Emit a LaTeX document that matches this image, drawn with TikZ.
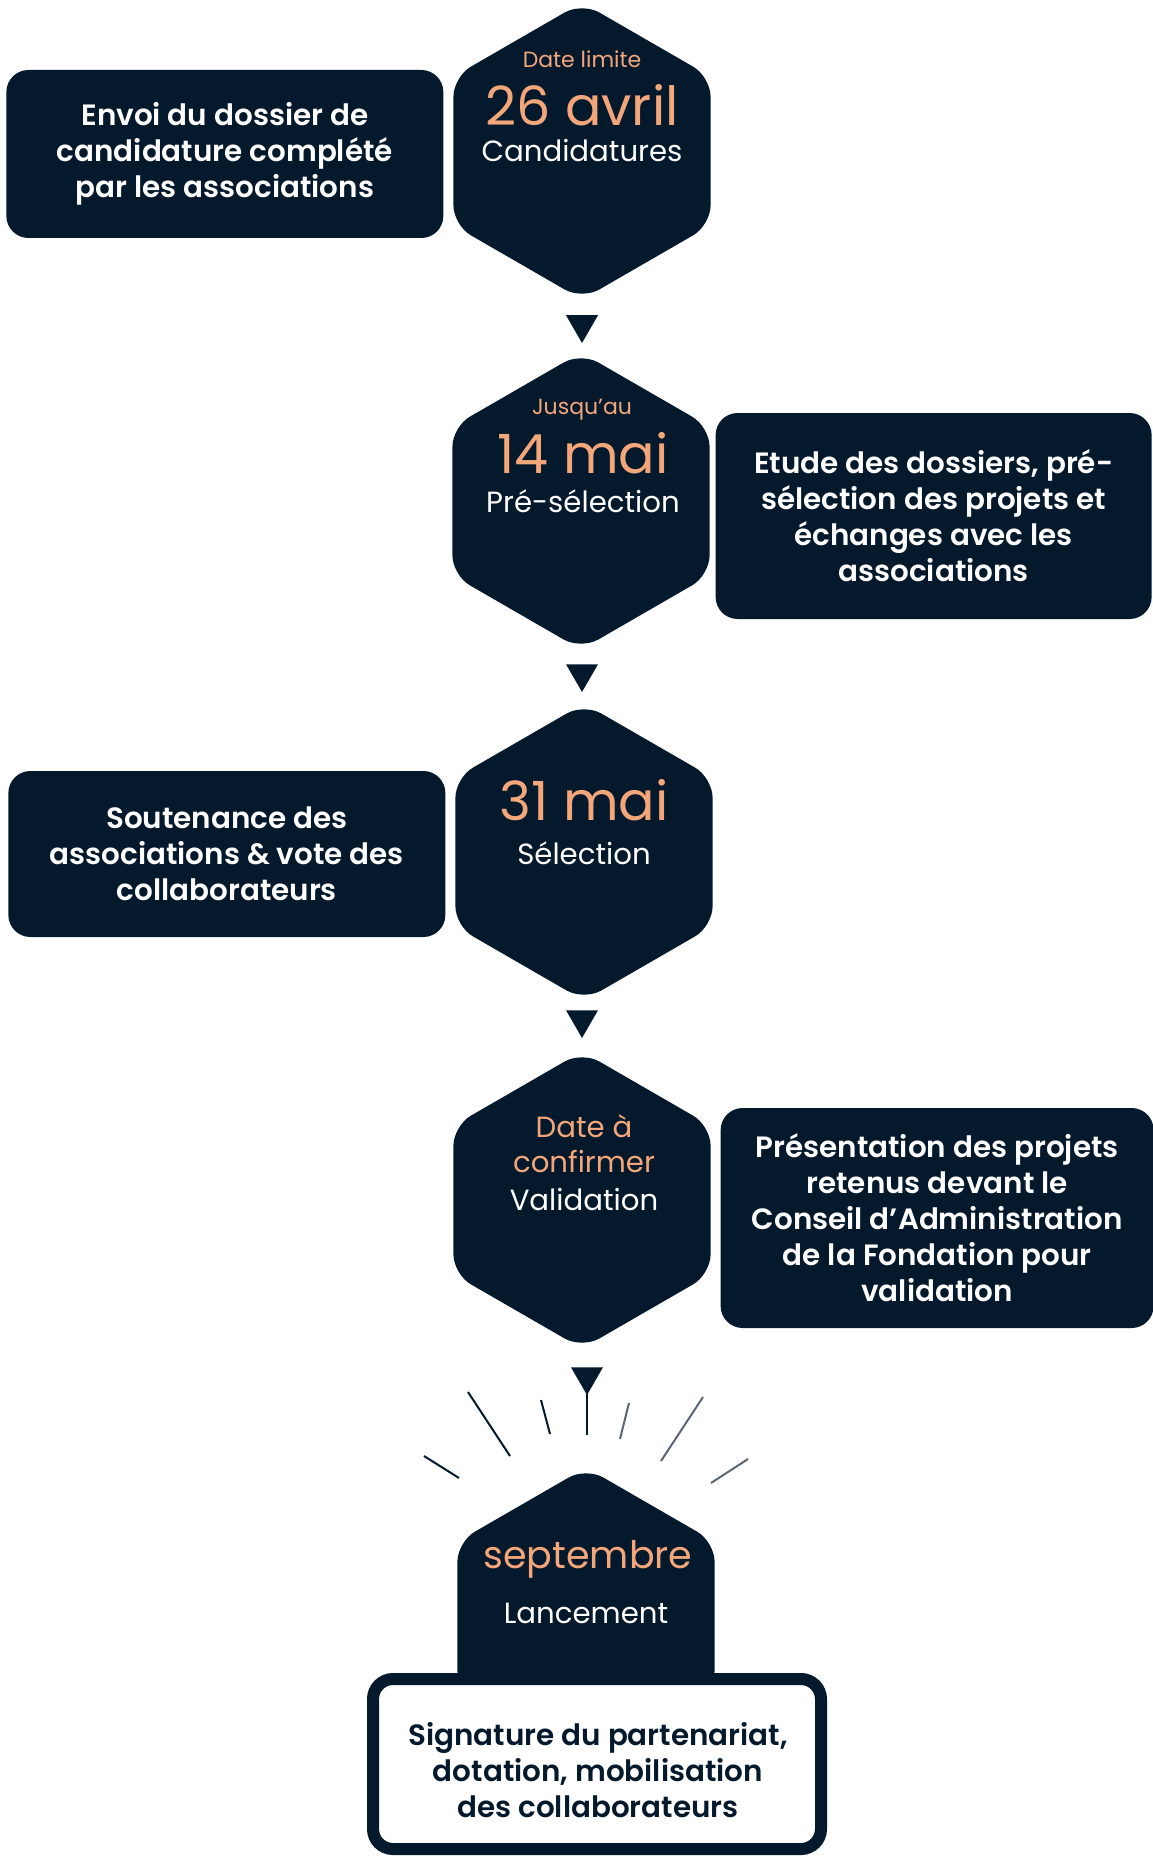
\documentclass[tikz,border=0pt]{standalone}
\usepackage{fontspec}
\setmainfont{Poppins}[BoldFont={Poppins SemiBold}]
\usepackage{tikz}
\usetikzlibrary{positioning,calc,shapes.geometric}
\definecolor{navy}{HTML}{04192C}
\definecolor{peach}{HTML}{F3A67A}
\definecolor{raygray}{HTML}{5C6573}

\begin{document}
\begin{tikzpicture}
   [x=0.5pt,y=-0.5pt,
	hexa/.style={regular polygon, regular polygon sides=6, shape border rotate=30,
	 minimum size=148.5pt, inner sep=0pt, outer sep=0pt, fill=navy, rounded corners=10pt},
	stepbox/.style={rectangle, rounded corners=11pt, fill=navy, text=white, align=center,
	 font=\fontsize{14.7}{18}\selectfont\bfseries, inner sep=0pt, outer sep=0pt},
	endbox/.style={rectangle, rounded corners=10pt, draw=navy, line width=6pt, fill=white,
	 minimum width=224pt, minimum height=85pt},
	tri/.style={regular polygon, regular polygon sides=3, shape border rotate=180,
	 minimum size=18.5pt, inner sep=0pt, fill=navy},
	dateinfo/.style={anchor=base, text=peach, font=\fontsize{11}{13}\selectfont},
	bigdate/.style={anchor=base, text=peach, font=\fontsize{27}{31}\selectfont},
	phase/.style={anchor=base, text=white, font=\fontsize{14.6}{17}\selectfont},
	sunray/.style={draw=navy, line width=1pt}]

\useasboundingbox (0,0) rectangle (1152,1856);

\node [hexa] (h1) at (582,151) {};
\node [hexa] (h2) at (581,501) {};
\node [hexa] (h3) at (584,852) {};
\node [hexa] (h4) at (582,1200) {};
\node [hexa] (h5) at (586,1616) {};

\node [tri] (t1) at (582,324.5) {};
\node [tri] (t2) at (582,673.5) {};
\node [tri] (t3) at (582,1019.5) {};
\node [tri] (t4) at (587,1376.5) {};

\node [stepbox,left=5pt of h1,yshift=-1.5pt,minimum width=218.5pt,minimum height=84pt] (b1)
	{Envoi du dossier de\\candidature complété\\par les associations};
\node [stepbox,right=3pt of h2,yshift=-7.5pt,minimum width=218pt,minimum height=103pt] (b2)
	{Etude des dossiers, pré-\\sélection des projets et\\échanges avec les\\associations};
\node [stepbox,left=5pt of h3,yshift=-1pt,minimum width=218.5pt,minimum height=83pt] (b3)
	{Soutenance des\\associations \& vote des\\collaborateurs};
\node [stepbox,right=5pt of h4,yshift=-9pt,minimum width=216.5pt,minimum height=110pt] (b4)
	{Présentation des projets\\retenus devant le\\Conseil d’Administration\\de la Fondation pour\\validation};

\node [dateinfo] (d1) at ($(h1)+(0,-83)$) {Date limite};
\node [bigdate] (n1) at ($(h1)+(0,-25)$) {26 avril};
\node [phase] (p1) at ($(h1)+(0,11)$) {Candidatures};

\node [dateinfo] (d2) at ($(h2)+(1,-86)$) {Jusqu’au};
\node [bigdate] (n2) at ($(h2)+(2,-28)$) {14 mai};
\node [phase] (p2) at ($(h2)+(2,11)$) {Pré-sélection};

\node [bigdate] (n3) at ($(h3)+(0,-32)$) {31 mai};
\node [phase] (p3) at ($(h3)+(0,12)$) {Sélection};

\node [phase,text=peach] (d4) at ($(h4)+(2,-63)$) {Date à};
\node [phase,text=peach] (c4) at ($(h4)+(2,-28)$) {confirmer};
\node [phase] (p4) at ($(h4)+(2,10)$) {Validation};

\draw [sunray] (424,1456) -- (459,1478);
\draw [sunray] (468,1392) -- (510,1456);
\draw [sunray] (541,1400) -- (550,1434);
\coordinate (r4end) at (587,1435);
\draw [sunray] (t4.center) -- (r4end);
\draw [sunray,draw=raygray] (629,1403) -- (620,1439);
\draw [sunray,draw=raygray] (703,1397) -- (661,1461);
\draw [sunray,draw=raygray] (748,1459) -- (711,1483);

\node [endbox] (sig) at (597,1764) {};
\node [text=navy,align=center,font=\fontsize{14.7}{18}\selectfont\bfseries] (sigtext) at ($(sig)+(1,6)$)
	{Signature du partenariat,\\dotation, mobilisation\\des collaborateurs};

\node [anchor=base,text=peach,font=\fontsize{19}{22}\selectfont] (n5) at ($(h5)+(2,-48)$) {septembre};
\node [phase] (p5) at ($(h5)+(0,7)$) {Lancement};
\end{tikzpicture}
\end{document}
